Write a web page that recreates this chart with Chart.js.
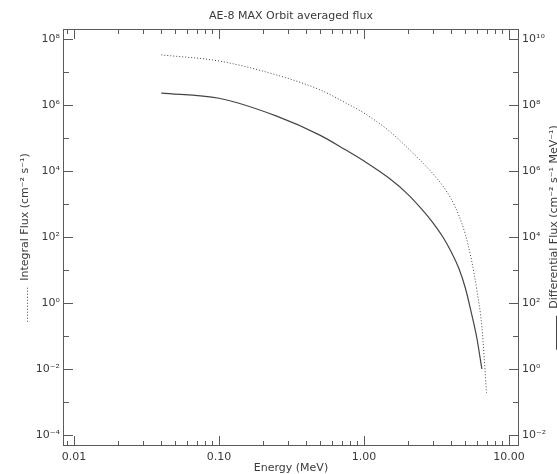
<!DOCTYPE html>
<html>
<head>
<meta charset="utf-8">
<script src="https://cdn.jsdelivr.net/npm/chart.js@4/dist/chart.umd.min.js"></script>
<style>
  body { margin: 0; background: #fff; }
  #chart { display: block; }
</style>
</head>
<body>
<canvas id="chart" width="557" height="474"></canvas>
<script>
// Data (AE-8 MAX electron spectrum)
const energies = [0.04, 0.1, 0.25, 0.5, 0.75, 1.0, 1.5, 2.0, 2.5, 3.0, 3.5, 4.0, 4.5, 5.0, 5.5, 6.0, 6.5, 7.0];
const integralFlux = [3.3e7, 2.15e7, 8.1e6, 2.85e6, 1.15e6, 5.7e5, 1.6e5, 5.0e4, 1.9e4, 8.1e3, 3.5e3, 1.4e3, 4.6e2, 1.2e2, 21, 2.5, 0.19, 1.9e-3];
const differentialFlux = [2.3e8, 1.6e8, 4.6e7, 1.2e7, 4.3e6, 2.0e6, 5.9e5, 2.0e5, 7.0e4, 2.65e4, 1.0e4, 3.5e3, 1.15e3, 285, 50, 8.7, 1.0];

const xTickValues = [0.01, 0.1, 1, 10];
const xTickLabels = ['0.01', '0.10', '1.00', '10.00'];
const leftExponents = [-4, -2, 0, 2, 4, 6, 8];
const rightExponents = [-2, 0, 2, 4, 6, 8, 10];

const TITLE = 'AE-8 MAX Orbit averaged flux';
const X_TITLE = 'Energy (MeV)';
const LEFT_TITLE = 'Integral Flux (cm\u207B\u00B2 s\u207B\u00B9)';
const RIGHT_TITLE = 'Differential Flux (cm\u207B\u00B2 s\u207B\u00B9 MeV\u207B\u00B9)';

const AXIS_COLOR = '#5a5a5a';
const TEXT_COLOR = '#3a3a3a';
const LINE_COLOR = '#444';
const FONT = 'DejaVu Sans';
const FONT_SIZE = 11;

const SUP = { '-': '\u207B', '0': '\u2070', '1': '\u00B9', '2': '\u00B2', '3': '\u00B3', '4': '\u2074',
              '5': '\u2075', '6': '\u2076', '7': '\u2077', '8': '\u2078', '9': '\u2079' };
const powerLabel = (exp) => '10' + String(exp).split('').map(c => SUP[c]).join('');

const toPoints = (xs, ys) => ys.map((y, i) => ({ x: xs[i], y: y }));

// Frame, inward ticks and titles in the old IDL style
const idlFrame = {
    id: 'idlFrame',
    afterDraw(chart) {
        const { ctx, chartArea: a, scales } = chart;
        const x = scales.x, yl = scales.y, yr = scales.y2;
        ctx.save();
        ctx.strokeStyle = AXIS_COLOR;
        ctx.lineWidth = 1;
        ctx.strokeRect(a.left + 0.5, a.top + 0.5, a.right - a.left - 1, a.bottom - a.top - 1);

        ctx.beginPath();
        // x ticks, bottom and top
        for (let d = -3; d <= 1; d++) {
            for (let m = 1; m <= 9; m++) {
                const v = m * Math.pow(10, d);
                if (v < x.min || v > x.max) continue;
                const px = Math.round(x.getPixelForValue(v)) + 0.5;
                const len = m === 1 ? 10 : 5;
                ctx.moveTo(px, a.bottom); ctx.lineTo(px, a.bottom - len);
                ctx.moveTo(px, a.top); ctx.lineTo(px, a.top + len);
            }
        }
        // y ticks, left and right
        const yTicks = (scale, side) => {
            for (let e = -6; e <= 12; e++) {
                const v = Math.pow(10, e);
                if (v < scale.min || v > scale.max) continue;
                const py = Math.round(scale.getPixelForValue(v)) + 0.5;
                const len = e % 2 === 0 ? 10 : 6;
                if (side === 'left') { ctx.moveTo(a.left, py); ctx.lineTo(a.left + len, py); }
                else { ctx.moveTo(a.right, py); ctx.lineTo(a.right - len, py); }
            }
        };
        yTicks(yl, 'left');
        yTicks(yr, 'right');
        ctx.stroke();

        // titles
        ctx.fillStyle = TEXT_COLOR;
        ctx.font = `${FONT_SIZE}px "${FONT}"`;
        ctx.textAlign = 'center';
        ctx.textBaseline = 'middle';
        const cx = (a.left + a.right) / 2;
        ctx.fillText(TITLE, cx, 16);
        ctx.fillText(X_TITLE, cx, 468);

        // rotated axis titles with line-style keys
        const sideTitle = (text, xc, dash) => {
            const cy = (a.top + a.bottom) / 2;
            const keyLen = 34, gap = 7;
            const tw = ctx.measureText(text).width;
            const total = keyLen + gap + tw;
            ctx.save();
            ctx.translate(xc, cy);
            ctx.rotate(-Math.PI / 2);
            const start = -total / 2;
            ctx.textAlign = 'left';
            ctx.fillText(text, start + keyLen + gap, 0);
            ctx.beginPath();
            ctx.setLineDash(dash);
            ctx.strokeStyle = LINE_COLOR;
            ctx.moveTo(start, 2.5);
            ctx.lineTo(start + keyLen, 2.5);
            ctx.stroke();
            ctx.restore();
        };
        sideTitle(LEFT_TITLE, 25, [1, 2]);
        sideTitle(RIGHT_TITLE, 554, []);
        ctx.restore();
    }
};

const logTicks = (values) => (scale) => {
    scale.ticks = values.map(v => ({ value: v }));
};

const tickFont = { family: FONT, size: FONT_SIZE };

const ctx = document.getElementById('chart').getContext('2d');
new Chart(ctx, {
    type: 'line',
    data: {
        datasets: [
            {
                label: 'Integral Flux',
                data: toPoints(energies, integralFlux),
                yAxisID: 'y',
                borderColor: LINE_COLOR,
                borderWidth: 1,
                borderDash: [1, 2],
                pointRadius: 0,
                cubicInterpolationMode: 'monotone'
            },
            {
                label: 'Differential Flux',
                data: toPoints(energies, differentialFlux),
                yAxisID: 'y2',
                borderColor: LINE_COLOR,
                borderWidth: 1.2,
                pointRadius: 0,
                cubicInterpolationMode: 'monotone'
            }
        ]
    },
    options: {
        responsive: false,
        animation: false,
        layout: { padding: { top: 29, left: 0, right: 0, bottom: 0 } },
        plugins: { legend: { display: false }, tooltip: { enabled: false } },
        scales: {
            x: {
                type: 'logarithmic',
                min: Math.pow(10, -2.076),
                max: Math.pow(10, 1.069),
                grid: { display: false, drawTicks: false },
                border: { display: false },
                afterBuildTicks: logTicks(xTickValues),
                afterFit: (s) => { s.height = 28; },
                ticks: {
                    autoSkip: false,
                    maxRotation: 0,
                    padding: 5,
                    color: TEXT_COLOR,
                    font: tickFont,
                    callback: (v) => xTickLabels[xTickValues.indexOf(v)]
                }
            },
            y: {
                type: 'logarithmic',
                position: 'left',
                min: Math.pow(10, -4.333),
                max: Math.pow(10, 8.303),
                grid: { display: false, drawTicks: false },
                border: { display: false },
                afterBuildTicks: logTicks(leftExponents.map(e => Math.pow(10, e))),
                afterFit: (s) => { s.width = 63; },
                ticks: {
                    autoSkip: false,
                    padding: 3,
                    color: TEXT_COLOR,
                    font: tickFont,
                    callback: (v) => powerLabel(Math.round(Math.log10(v)))
                }
            },
            y2: {
                type: 'logarithmic',
                position: 'right',
                min: Math.pow(10, -2.333),
                max: Math.pow(10, 10.303),
                grid: { display: false, drawTicks: false },
                border: { display: false },
                afterBuildTicks: logTicks(rightExponents.map(e => Math.pow(10, e))),
                afterFit: (s) => { s.width = 38; },
                ticks: {
                    autoSkip: false,
                    padding: 3,
                    color: TEXT_COLOR,
                    font: tickFont,
                    callback: (v) => powerLabel(Math.round(Math.log10(v)))
                }
            }
        }
    },
    plugins: [idlFrame]
});
</script>
</body>
</html>
